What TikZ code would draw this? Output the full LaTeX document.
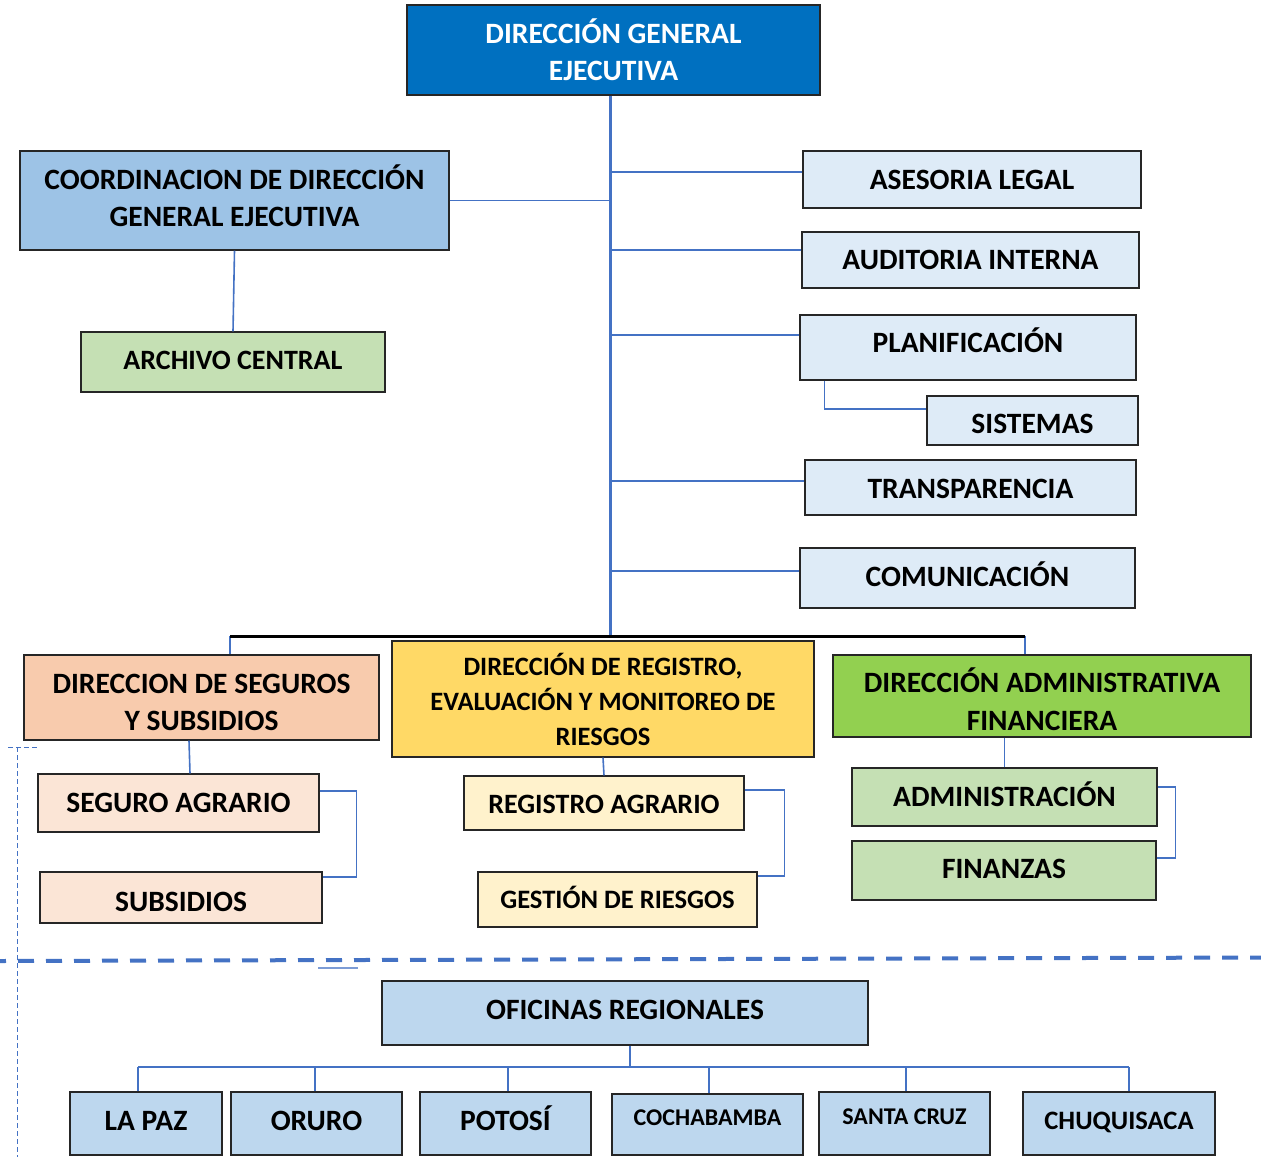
\documentclass[tikz,border=0pt]{standalone}
\usepackage{fontspec}
\setmainfont{Carlito}
\usetikzlibrary{calc}
\definecolor{cDGE}{HTML}{0070C0}
\definecolor{cCoord}{HTML}{9DC3E6}
\definecolor{cGreenL}{HTML}{C5E0B4}
\definecolor{cBlueL}{HTML}{DEEBF7}
\definecolor{cDSS}{HTML}{F8CBAD}
\definecolor{cDSSl}{HTML}{FBE5D6}
\definecolor{cDRE}{HTML}{FFD966}
\definecolor{cDREl}{HTML}{FFF2CC}
\definecolor{cDAF}{HTML}{92D050}
\definecolor{cReg}{HTML}{BDD7EE}
\definecolor{cLine}{HTML}{4472C4}
\begin{document}
\begin{tikzpicture}[x=1pt,y=-1pt,
  box/.style={draw=black!85, line width=1.2pt, inner sep=0pt, align=center,
    text height=19pt, text depth=0pt,
    font=\bfseries\fontsize{29.5}{37.5}\selectfont},
  midbox/.style={box, text height=18pt, font=\bfseries\fontsize{28}{35}\selectfont},
  lessbox/.style={box, text height=17pt, font=\bfseries\fontsize{26.6}{35}\selectfont},
  smallbox/.style={box, text height=15.5pt, font=\bfseries\fontsize{24}{30}\selectfont},
  conn/.style={draw=cLine, line width=1.6pt}]
\useasboundingbox (0,0) rectangle (1261,1157);
\fill[white] (0,0) rectangle (1261,1157);

% top level
\node[box, fill=cDGE, text=white, minimum width=413, minimum height=90, text height=61.5pt] (dge) at (613.5,50) {DIRECCIÓN GENERAL\\EJECUTIVA};
\node[box, fill=cCoord, minimum width=429, minimum height=99, text height=56.5pt, text depth=4.5pt] (coord) at (234.5,200.5) {COORDINACION DE DIRECCIÓN\\GENERAL EJECUTIVA};
\node[midbox, fill=cGreenL, minimum width=304, minimum height=60, text depth=4pt] (archivo) at (233,362) {ARCHIVO CENTRAL};

\node[box, fill=cBlueL, minimum width=338, minimum height=57] (asesoria) at (972,179.5) {ASESORIA LEGAL};
\node[box, fill=cBlueL, minimum width=337, minimum height=56] (auditoria) at (970.5,260) {AUDITORIA INTERNA};
\node[box, fill=cBlueL, minimum width=336, minimum height=65, text depth=9pt] (planif) at (968,347.5) {PLANIFICACIÓN};
\node[box, fill=cBlueL, minimum width=211, minimum height=49, text height=25pt] (sistemas) at (1032.5,420.5) {SISTEMAS};
\node[box, fill=cBlueL, minimum width=331, minimum height=55, text height=21pt] (transp) at (970.5,487.5) {TRANSPARENCIA};
\node[box, fill=cBlueL, minimum width=335, minimum height=60, text depth=2pt] (comun) at (967.5,578) {COMUNICACIÓN};

% directions
\node[box, fill=cDSS, minimum width=355, minimum height=85, text height=66.5pt] (dss) at (201.5,697.5) {DIRECCION DE SEGUROS\\Y SUBSIDIOS};
\node[box, fill=cDRE, minimum width=422, minimum height=116, text height=93pt, font=\bfseries\fontsize{26.5}{35}\selectfont] (dre) at (603,699) {DIRECCIÓN DE REGISTRO,\\EVALUACIÓN Y MONITOREO DE\\RIESGOS};
\node[box, fill=cDAF, minimum width=418, minimum height=82, text height=68.5pt] (daf) at (1042,696) {DIRECCIÓN ADMINISTRATIVA\\FINANCIERA};

\node[box, fill=cDSSl, minimum width=281, minimum height=58] (seguro) at (178.5,803) {SEGURO AGRARIO};
\node[box, fill=cDSSl, minimum width=282, minimum height=51, text height=27pt] (subsidios) at (181,897.5) {SUBSIDIOS};
\node[midbox, fill=cDREl, minimum width=280, minimum height=54, text height=20pt] (registro) at (604,803) {REGISTRO AGRARIO};
\node[lessbox, fill=cDREl, minimum width=279, minimum height=55] (gestion) at (617.5,899.5) {GESTIÓN DE RIESGOS};
\node[box, fill=cGreenL, minimum width=305, minimum height=58] (admin) at (1004.5,797) {ADMINISTRACIÓN};
\node[box, fill=cGreenL, minimum width=304, minimum height=59, text depth=3pt] (finanzas) at (1004,870.5) {FINANZAS};

% regional offices
\node[box, fill=cReg, minimum width=486, minimum height=64, text depth=6pt] (oficinas) at (625,1013) {OFICINAS REGIONALES};
\node[box, fill=cReg, minimum width=152, minimum height=63, text depth=5pt] (lapaz) at (146,1123.5) {LA PAZ};
\node[box, fill=cReg, minimum width=171, minimum height=63, text depth=5pt] (oruro) at (316.5,1123.5) {ORURO};
\node[box, fill=cReg, minimum width=171, minimum height=63, text depth=5pt] (potosi) at (505.5,1123.5) {POTOSÍ};
\node[smallbox, fill=cReg, minimum width=191, minimum height=61, text depth=13pt] (cocha) at (707.5,1124.5) {COCHABAMBA};
\node[smallbox, fill=cReg, minimum width=171, minimum height=63, text depth=13pt] (santa) at (904.5,1123.5) {SANTA CRUZ};
\node[lessbox, fill=cReg, minimum width=192, minimum height=63, text depth=5pt] (chuq) at (1119,1123.5) {CHUQUISACA};

% trunk and side branches
\coordinate (trunk) at ([xshift=-3.5pt]dge.south);
\coordinate (busL) at (230,636);
\coordinate (busR) at (1025,636);
\draw[conn, line width=3pt] (trunk) -- (trunk |- busL);
\draw[conn] (coord.east) -- (coord.east -| trunk);
\draw[conn] (coord.south) -- (archivo.north);
\path ([yshift=7.5pt]asesoria.west) coordinate (a1)
      ([yshift=10pt]auditoria.west) coordinate (a2)
      ([yshift=12.5pt]planif.west) coordinate (a3)
      ([yshift=6.5pt]transp.west) coordinate (a4)
      ([yshift=7pt]comun.west) coordinate (a5);
\foreach \a in {a1,a2,a3,a4,a5} \draw[conn] (\a) -- (\a -| trunk);
\draw[conn] ([xshift=25pt]planif.south west) |- ([yshift=11.5pt]sistemas.west);

% bus to directions
\draw[conn] (busL) -- (busL |- dss.north);
\draw[conn] (busR) -- (busR |- daf.north);
\draw[black, line width=3pt] (busL) -- (busR);

% sub-units
\draw[conn] ([xshift=-12.5pt]dss.south) -- ([xshift=11.5pt]seguro.north);
\draw[conn] ([yshift=12pt]seguro.east) -- ++(37,0) |- ([yshift=20.5pt]subsidios.east);
\draw[conn] (dre.south) -- (registro.north);
\draw[conn] ([yshift=13pt]registro.east) -- ++(40,0) |- ([yshift=23.5pt]gestion.east);
\draw[conn] (admin.north) -- (admin.north |- daf.south);
\draw[conn] ([yshift=10pt]admin.east) -- ++(18,0) |- ([yshift=12.5pt]finanzas.east);

% separator and faint marks
\draw[cLine, line width=4pt, dash pattern=on 16pt off 12pt, dash phase=10pt] (0,961) -- (1261,957.5);
\draw[cLine!70, line width=1.8pt] (318,968) -- (358,968);
\draw[cLine, line width=0.8pt, dash pattern=on 5pt off 3pt] (17,747) -- (17,1157);
\draw[cLine, line width=0.8pt, dash pattern=on 5pt off 3pt] (8,747) -- (38,747);

% regional tree
\coordinate (ob) at (630,1067);
\draw[conn] ([xshift=5pt]oficinas.south) -- (ob);
\path ([xshift=-8pt]lapaz.north) coordinate (d1)
      ([xshift=-1.5pt]oruro.north) coordinate (d2)
      ([xshift=2.5pt]potosi.north) coordinate (d3)
      ([xshift=1.5pt]cocha.north) coordinate (d4)
      ([xshift=1.5pt]santa.north) coordinate (d5)
      ([xshift=10pt]chuq.north) coordinate (d6);
\draw[conn] (d1 |- ob) -- (d6 |- ob);
\foreach \d in {d1,d2,d3,d4,d5,d6} \draw[conn] (\d) -- (\d |- ob);
\end{tikzpicture}
\end{document}
